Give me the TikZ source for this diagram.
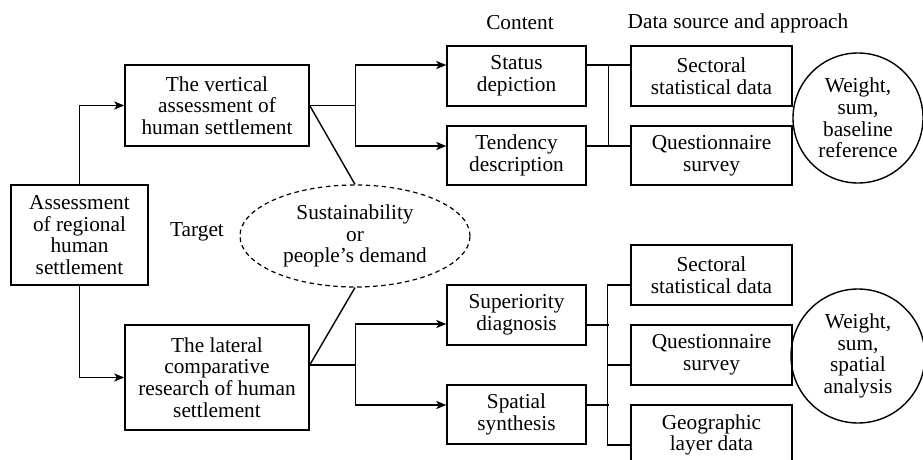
\documentclass[tikz,border=0pt]{standalone}
\usepackage{fontspec}
\setmainfont{Liberation Serif}
\usetikzlibrary{shapes.geometric,arrows.meta,calc}
\newcommand{\fs}{\fontsize{21.3}{21.7}\selectfont}
\begin{document}
\begin{tikzpicture}[x=1pt,y=-1pt,line width=1.4pt,
  box/.style={draw,align=center,inner sep=0pt,font=\fs},
  lbl/.style={align=center,inner sep=0pt,font=\fs},
  arr/.style={-{Stealth[length=10pt,width=8pt,inset=2.5pt]}}]
\clip (0,0) rectangle (923,460);
\useasboundingbox (0,0) rectangle (923,460);
% headers
\node[lbl] (hc) at (520,23) {Content};
\node[lbl] (hd) at (738,23) {Data source and approach};
\node[lbl] (tg) at (197,232) {Target};
% left boxes
\node[box,minimum width=137pt,minimum height=100pt] (assess) at (79.5,235) {Assessment\\of regional\\human\\settlement};
\node[box,minimum width=184pt,minimum height=81pt] (vert) at (217,105.5) {The vertical\\assessment of\\human settlement};
\node[box,minimum width=184pt,minimum height=105pt] (lat) at (217,377.5) {The lateral\\comparative\\research of human\\settlement};
% ellipse
\node[lbl,draw,ellipse,dash pattern=on 4.5pt off 3.5pt,line width=1.2pt,minimum width=230pt,minimum height=102pt] (ell) at (355,236) {Sustainability\\or\\people's demand};
% content boxes
\node[box,minimum width=139pt,minimum height=60pt] (status) at (516.5,76) {Status\\depiction};
\node[box,minimum width=139pt,minimum height=59pt] (tend) at (516.5,155.5) {Tendency\\description};
\node[box,minimum width=139pt,minimum height=60pt] (sup) at (516.5,315) {Superiority\\diagnosis};
\node[box,minimum width=139pt,minimum height=59pt] (spat) at (516.5,414.5) {Spatial\\synthesis};
% data boxes
\node[box,minimum width=161pt,minimum height=60pt] (sec1) at (711.5,76) {Sectoral\\statistical data};
\node[box,minimum width=161pt,minimum height=59pt] (q1) at (711.5,155.5) {Questionnaire\\survey};
\node[box,minimum width=161pt,minimum height=60pt] (sec2) at (711.5,275) {Sectoral\\statistical data};
\node[box,minimum width=161pt,minimum height=60pt] (q2) at (711.5,355) {Questionnaire\\survey};
\node[box,minimum width=161pt,minimum height=60pt] (geo) at (711.5,435) {Geographic\\layer data};
% circles
\node[lbl,draw,circle,minimum size=130pt] (w1) at (858,118) {Weight,\\sum,\\baseline\\reference};
\node[lbl,draw,circle,minimum size=134pt] (w2) at (858,356) {Weight,\\sum,\\spatial\\analysis};
% connectors left
\draw[arr] (assess.north) |- (vert.west);
\draw[arr] (assess.south) |- (lat.west);
\draw (vert.east) -- ++(46,0) coordinate (jv);
\draw[arr] (jv) |- ([yshift=11pt]status.west);
\draw[arr] (jv) |- ([yshift=9.5pt]tend.west);
\draw ([yshift=12.5pt]lat.east) -- ++(46,0) coordinate (jl);
\draw[arr] (jl) |- ([yshift=-9pt]sup.west);
\draw[arr] (jl) |- ([yshift=9.5pt]spat.west);
\draw (vert.east) -- (ell.north);
\draw ([yshift=12.5pt]lat.east) -- (ell.south);
% connectors right top
\draw ([yshift=11pt]status.east) -- ([yshift=11pt]sec1.west);
\draw ([yshift=9.5pt]tend.east) -- ([yshift=9.5pt]q1.west);
\path ([yshift=11pt]status.east) ++(22,0) coordinate (ja);
\path ([yshift=9.5pt]tend.east) ++(22,0) coordinate (jb);
\draw (ja) -- (jb);
% connectors right bottom
\path ([yshift=-10pt]sec2.west) ++(-23,0) coordinate (jc);
\path ([yshift=-10pt]geo.west) ++(-23,0) coordinate (jd);
\draw ([yshift=-10pt]sec2.west) -- (jc) -- (jd) -- ([yshift=-10pt]geo.west);
\draw ([yshift=-10pt]q2.west) -- ++(-23,0);
\draw ([yshift=-10pt]sup.east) -- ++(22,0);
\draw ([yshift=9.5pt]spat.east) -- ++(22,0);
\end{tikzpicture}
\end{document}
